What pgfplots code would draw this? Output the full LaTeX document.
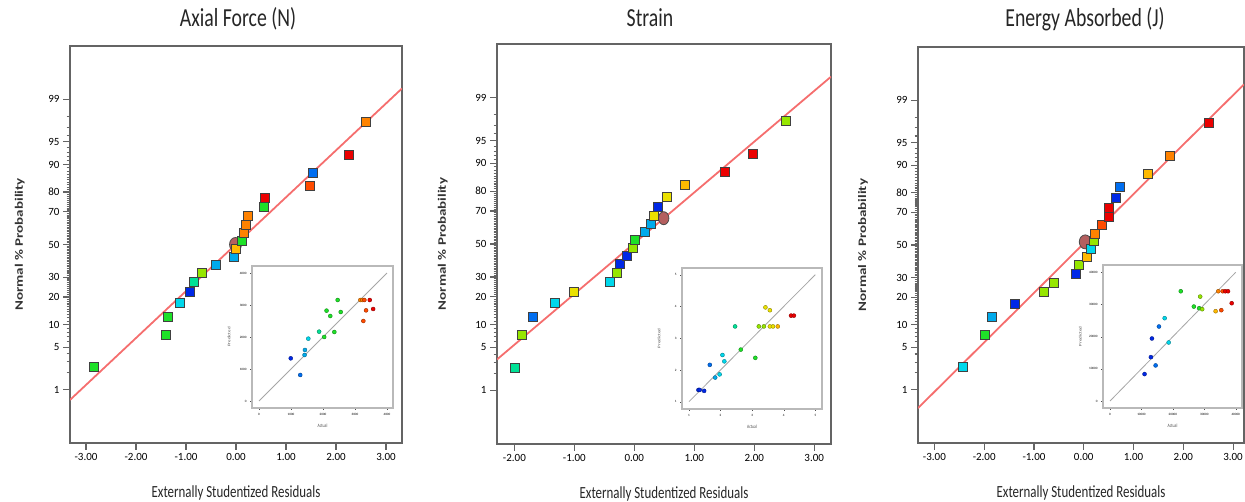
\documentclass[border=0pt]{standalone}
\usepackage{fontspec}
\setmainfont{Carlito}[FakeStretch=0.76]
\newfontfamily\rotfont{Carlito}
\usepackage{graphicx}
\usepackage{pgfplots}
\pgfplotsset{compat=1.18}

\definecolor{cB}{RGB}{0,40,230}
\definecolor{cAz}{RGB}{0,110,240}
\definecolor{cL}{RGB}{0,170,235}
\definecolor{cC}{RGB}{0,215,235}
\definecolor{cT}{RGB}{0,225,150}
\definecolor{cG}{RGB}{30,225,40}
\definecolor{cYG}{RGB}{150,230,0}
\definecolor{cYe}{RGB}{235,225,0}
\definecolor{cYO}{RGB}{255,185,0}
\definecolor{cO}{RGB}{255,130,0}
\definecolor{cOR}{RGB}{255,75,0}
\definecolor{cR}{RGB}{235,0,0}
\definecolor{cLine}{RGB}{245,110,110}
\definecolor{cCirc}{RGB}{180,95,95}
\definecolor{cFrame}{RGB}{100,100,100}

% tick label text (main axes / insets), plain font, no colour change
\newcommand\tl[1]{{\fontsize{11}{13}\rotfont #1}}
\newcommand\il[1]{{\fontsize{3.3}{4}\rotfont #1}}

\pgfplotsset{
  sq/.style={only marks, scatter, scatter src=explicit symbolic,
    scatter/classes={
      b={mark=square*,mark size=4.5pt,draw=black!75,fill=cB},
      az={mark=square*,mark size=4.5pt,draw=black!75,fill=cAz},
      l={mark=square*,mark size=4.5pt,draw=black!75,fill=cL},
      c={mark=square*,mark size=4.5pt,draw=black!75,fill=cC},
      t={mark=square*,mark size=4.5pt,draw=black!75,fill=cT},
      g={mark=square*,mark size=4.5pt,draw=black!75,fill=cG},
      yg={mark=square*,mark size=4.5pt,draw=black!75,fill=cYG},
      ye={mark=square*,mark size=4.5pt,draw=black!75,fill=cYe},
      yo={mark=square*,mark size=4.5pt,draw=black!75,fill=cYO},
      o={mark=square*,mark size=4.5pt,draw=black!75,fill=cO},
      or={mark=square*,mark size=4.5pt,draw=black!75,fill=cOR},
      r={mark=square*,mark size=4.5pt,draw=black!75,fill=cR}}},
  dot/.style={only marks, scatter, scatter src=explicit symbolic,
    scatter/classes={
      b={mark=*,mark size=2pt,draw=cB!60!black,fill=cB},
      az={mark=*,mark size=2pt,draw=cAz!60!black,fill=cAz},
      l={mark=*,mark size=2pt,draw=cL!60!black,fill=cL},
      c={mark=*,mark size=2pt,draw=cC!60!black,fill=cC},
      t={mark=*,mark size=2pt,draw=cT!60!black,fill=cT},
      g={mark=*,mark size=2pt,draw=cG!60!black,fill=cG},
      yg={mark=*,mark size=2pt,draw=cYG!60!black,fill=cYG},
      ye={mark=*,mark size=2pt,draw=cYe!60!black,fill=cYe},
      yo={mark=*,mark size=2pt,draw=cYO!60!black,fill=cYO},
      o={mark=*,mark size=2pt,draw=cO!60!black,fill=cO},
      or={mark=*,mark size=2pt,draw=cOR!60!black,fill=cOR},
      r={mark=*,mark size=2pt,draw=cR!60!black,fill=cR}}},
  probaxis/.style={
    scale only axis, anchor=south west,
    axis line style={draw=cFrame, line width=1.3pt},
    xtick style={cFrame, line width=1.1pt},
    ytick style={cFrame, line width=1.1pt},
    tick align=outside, xtick pos=left, ytick pos=left,
    major tick length=7pt, minor tick length=3.5pt,
    ymin=-3.18, ymax=3.18,
    ytick={-2.326,-1.645,-1.2816,-0.8416,-0.5244,0,0.5244,0.8416,1.2816,1.645,2.326},
    yticklabels={\tl{1},\tl{5},\tl{10},\tl{20},\tl{30},\tl{50},\tl{70},\tl{80},\tl{90},\tl{95},\tl{99}},
    minor ytick={-2.054,-1.881,-1.751,-1.555,-1.476,-1.405,-1.341,
      -1.227,-1.175,-1.126,-1.080,-1.036,-0.994,-0.954,-0.915,-0.878,
      -0.806,-0.772,-0.739,-0.706,-0.674,-0.643,-0.613,-0.583,-0.553,
      -0.496,-0.468,-0.440,-0.412,-0.385,-0.358,-0.332,-0.305,-0.279,
      -0.253,-0.228,-0.202,-0.176,-0.151,-0.126,-0.100,-0.075,-0.050,-0.025,
      0.025,0.050,0.075,0.100,0.126,0.151,0.176,0.202,0.228,0.253,
      0.279,0.305,0.332,0.358,0.385,0.412,0.440,0.468,0.496,
      0.553,0.583,0.613,0.643,0.674,0.706,0.739,0.772,0.806,
      0.878,0.915,0.954,0.994,1.036,1.080,1.126,1.175,1.227,
      1.341,1.405,1.476,1.555,1.751,1.881,2.054},
    xlabel={Externally Studentized Residuals},
    ylabel={\scalebox{1}[0.76]{\rotfont\bfseries Normal \% Probability}},
    xlabel style={font=\fontsize{17}{19}\selectfont, text=black!85, at={(axis description cs:0.5,-0.126)}, anchor=center},
    ylabel style={font=\fontsize{15}{17}\selectfont, text=black!80, anchor=center},
  },
  inset/.style={
    scale only axis, anchor=south west,
    axis background/.style={fill=white},
    axis line style={draw=gray!55, line width=1.3pt},
    xtick style={gray!60!black, line width=0.3pt},
    ytick style={gray!60!black, line width=0.3pt},
    tick align=outside, xtick pos=left, ytick pos=left,
    major tick length=2pt, scaled ticks=false,
    xlabel={Actual}, ylabel={\scalebox{1}[0.76]{\rotfont Predicted}},
    xlabel style={font=\fontsize{5}{6}\selectfont, text=black!70, at={(axis description cs:0.5,-0.127)}, anchor=center},
    ylabel style={font=\fontsize{5}{6}\selectfont, text=black!70, at={(axis description cs:-0.163,0.5)}, anchor=center},
  },
}

\begin{document}
\begin{tikzpicture}
\useasboundingbox (0pt,0pt) rectangle (1245pt,502pt);

% titles
\node[anchor=base, font=\fontsize{26}{30}\selectfont, text=black!85] at (238pt,475pt) {Axial Force (N)};
\node[anchor=base, font=\fontsize{26}{30}\selectfont, text=black!85] at (650pt,475pt) {Strain};
\node[anchor=base, font=\fontsize{26}{30}\selectfont, text=black!85] at (1085pt,475pt) {Energy Absorbed (J)};

% ---------- Axial Force ----------
\begin{axis}[probaxis, at={(70pt,59pt)}, width=332pt, height=397pt,
  xmin=-3.32, xmax=3.32, xtick={-3,-2,-1,0,1,2,3},
  xticklabels={\tl{-3.00},\tl{-2.00},\tl{-1.00},\tl{0.00},\tl{1.00},\tl{2.00},\tl{3.00}},
  ylabel style={at={(axis description cs:-0.151,0.5)}}]
\addplot[no marks, color=cLine, line width=1.8pt] coordinates {(-3.32,-2.49) (3.32,2.50)};
\addplot[only marks, mark=*, mark size=7pt, mark options={xscale=0.85, fill=cCirc, draw=black!70, line width=0.8pt}] coordinates {(-0.01,0.0)};
\addplot[sq] table[meta=c] {
x y c
-2.84 -1.960 g
-1.41 -1.440 g
-1.375 -1.150 g
-1.12 -0.935 c
-0.93 -0.755 b
-0.84 -0.598 t
-0.68 -0.454 yg
-0.41 -0.319 l
-0.04 -0.189 l
0.00 -0.063 yo
0.11 0.063 g
0.15 0.189 o
0.19 0.319 o
0.23 0.454 o
0.56 0.598 g
0.57 0.755 r
1.47 0.935 or
1.53 1.150 az
2.25 1.440 r
2.60 1.960 o
};
\end{axis}
\begin{axis}[inset, at={(252pt,94pt)}, width=141pt, height=142pt,
  xmin=-219, xmax=4188, ymin=-219, ymax=4219,
  xtick={0,1000,2000,3000,4000}, ytick={0,1000,2000,3000,4000},
  xticklabels={\il{0},\il{1000},\il{2000},\il{3000},\il{4000}},
  yticklabels={\il{0},\il{1000},\il{2000},\il{3000},\il{4000}}]
\addplot[no marks, gray!70, line width=0.8pt] coordinates {(0,0) (4000,4000)};
\addplot[dot] table[meta=c] {
x y c
992 1333 b
1288 813 az
1425 1438 l
1436 1594 l
1541 1948 c
1879 2167 t
2037 2000 g
2111 2823 g
2227 2656 g
2354 2156 g
2459 3156 g
2554 2781 g
3166 3156 o
3230 3156 o
3293 3156 or
3462 3156 r
3346 2833 or
3567 2875 r
3261 2500 or
};
\end{axis}

% ---------- Strain ----------
\begin{axis}[probaxis, at={(497pt,58pt)}, width=334pt, height=400pt,
  xmin=-2.29, xmax=3.28, xtick={-2,-1,0,1,2,3},
  xticklabels={\tl{-2.00},\tl{-1.00},\tl{0.00},\tl{1.00},\tl{2.00},\tl{3.00}},
  ylabel style={at={(axis description cs:-0.162,0.5)}}]
\addplot[no marks, color=cLine, line width=1.8pt] coordinates {(-2.29,-1.836) (3.28,2.66)};
\addplot[only marks, mark=*, mark size=6.5pt, mark options={xscale=0.8, fill=cCirc, draw=black!70, line width=0.8pt}] coordinates {(0.49,0.41)};
\addplot[sq] table[meta=c] {
x y c
-1.99 -1.960 t
-1.88 -1.440 yg
-1.70 -1.150 az
-1.32 -0.935 c
-1.01 -0.755 ye
-0.41 -0.598 c
-0.29 -0.454 yg
-0.24 -0.319 b
-0.13 -0.189 b
-0.02 -0.063 yg
0.00 0.063 g
0.17 0.189 l
0.28 0.319 l
0.33 0.454 ye
0.39 0.598 b
0.54 0.755 ye
0.84 0.935 yo
1.51 1.150 r
1.98 1.440 r
2.52 1.960 yg
};
\end{axis}
\begin{axis}[inset, at={(682pt,93pt)}, width=140pt, height=141pt,
  xmin=0.78, xmax=5.21, ymin=0.77, ymax=5.21,
  xtick={1,2,3,4,5}, ytick={1,2,3,4,5},
  xticklabels={\il{1},\il{2},\il{3},\il{4},\il{5}},
  yticklabels={\il{1},\il{2},\il{3},\il{4},\il{5}}]
\addplot[no marks, gray!70, line width=0.8pt] coordinates {(1,1) (5,5)};
\addplot[dot] table[meta=c] {
x y c
1.30 1.37 b
1.34 1.37 b
1.48 1.34 b
1.66 2.16 az
1.83 1.76 l
1.97 1.86 c
2.06 2.47 c
2.12 2.27 c
2.46 3.37 t
2.64 2.64 g
3.10 2.38 g
3.21 3.37 yg
3.37 3.37 yg
3.42 3.97 ye
3.56 3.88 ye
3.56 3.37 ye
3.66 3.37 ye
3.81 3.37 yo
4.23 3.71 r
4.32 3.71 r
};
\end{axis}

% ---------- Energy Absorbed ----------
\begin{axis}[probaxis, at={(918pt,59pt)}, width=326pt, height=396pt,
  xmin=-3.33, xmax=3.22, xtick={-3,-2,-1,0,1,2,3},
  xticklabels={\tl{-3.00},\tl{-2.00},\tl{-1.00},\tl{0.00},\tl{1.00},\tl{2.00},\tl{3.00}},
  ylabel style={at={(axis description cs:-0.169,0.5)}}]
\addplot[no marks, color=cLine, line width=1.8pt] coordinates {(-3.33,-2.62) (3.22,2.58)};
\addplot[only marks, mark=*, mark size=7pt, mark options={xscale=0.85, fill=cCirc, draw=black!70, line width=0.8pt}] coordinates {(0.03,0.05)};
\addplot[sq] table[meta=c] {
x y c
-2.44 -1.960 c
-2.00 -1.440 g
-1.84 -1.150 l
-1.38 -0.935 b
-0.80 -0.755 yg
-0.61 -0.598 yg
-0.17 -0.454 b
-0.11 -0.319 yg
0.06 -0.189 yo
0.13 -0.063 c
0.19 0.063 yg
0.22 0.189 o
0.36 0.319 or
0.50 0.454 r
0.50 0.598 r
0.64 0.755 b
0.72 0.935 az
1.29 1.150 yo
1.73 1.440 o
2.51 1.960 r
};
\end{axis}
\begin{axis}[inset, at={(1103pt,94pt)}, width=139pt, height=143pt,
  xmin=-2230, xmax=42000, ymin=-2170, ymax=42270,
  xtick={0,10000,20000,30000,40000}, ytick={0,10000,20000,30000,40000},
  xticklabels={\il{0},\il{10000},\il{20000},\il{30000},\il{40000}},
  yticklabels={\il{0},\il{10000},\il{20000},\il{30000},\il{40000}}]
\addplot[no marks, gray!70, line width=0.8pt] coordinates {(0,0) (40000,40000)};
\addplot[dot] table[meta=c] {
x y c
10990 8370 b
13010 13640 b
14510 11060 az
13330 19430 b
15570 23150 az
17390 25740 c
18670 18190 c
22510 34110 g
26670 29350 g
28690 32450 yg
28370 28840 g
29330 28530 yg
33600 27910 yo
35410 28220 or
34450 34110 o
35840 34110 or
36690 34110 r
37550 34110 r
38720 30390 r
};
\end{axis}
\end{tikzpicture}
\end{document}
